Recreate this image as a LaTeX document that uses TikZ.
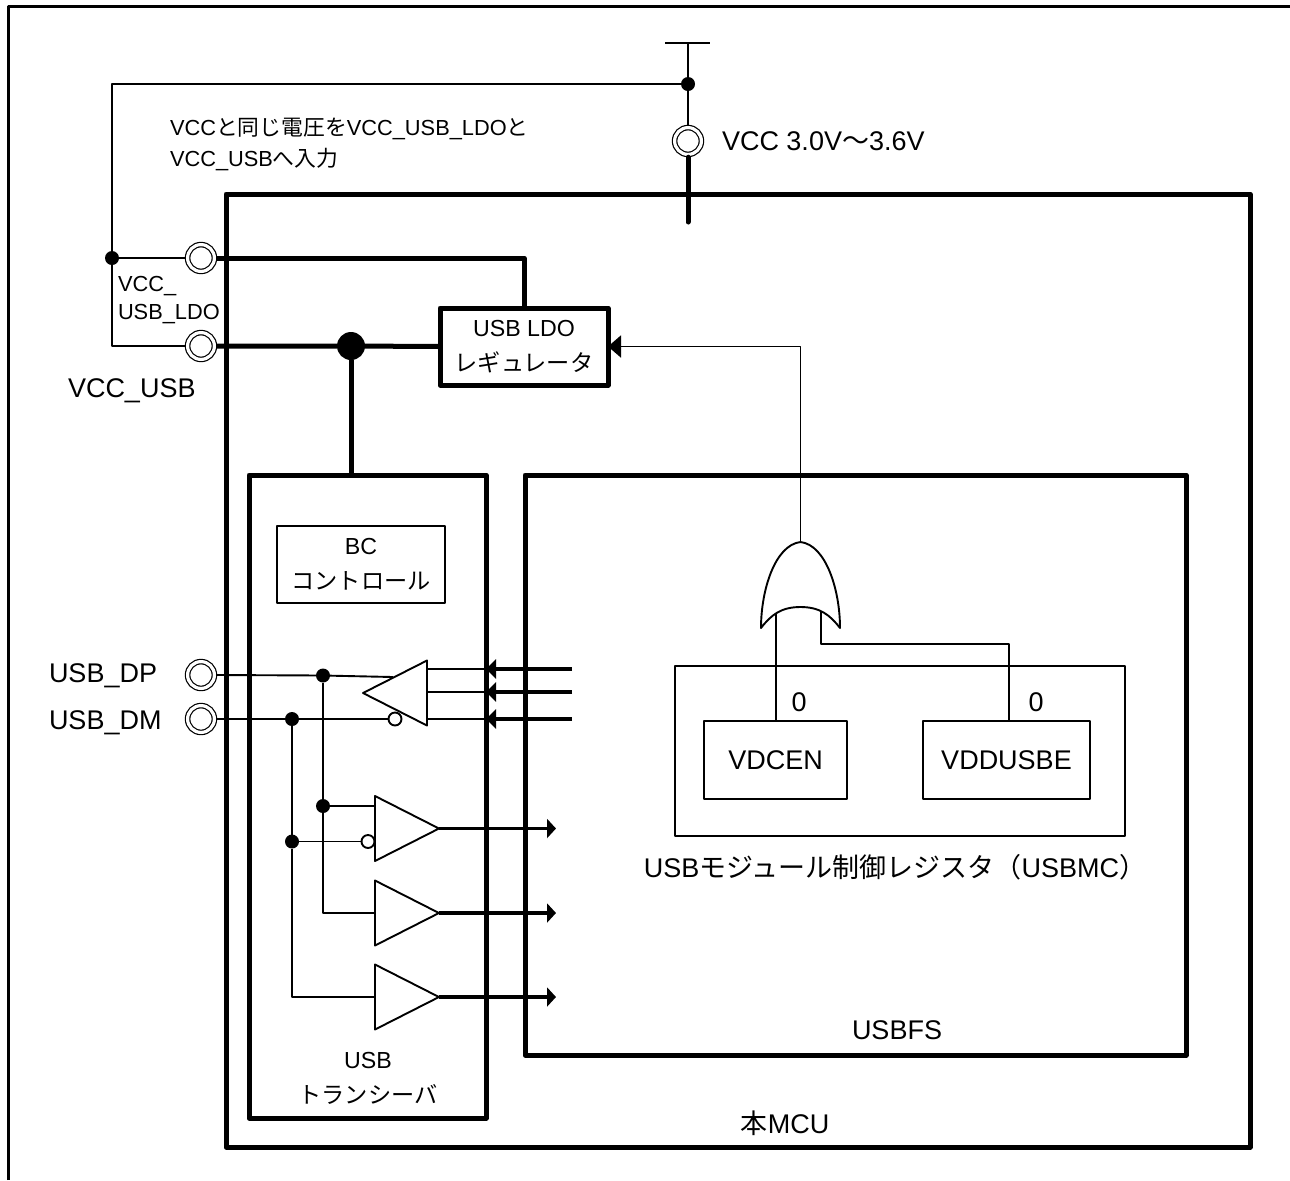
\documentclass[tikz,border=0pt]{standalone}
\usepackage{fontspec}
\setmainfont{Liberation Sans}
\newfontfamily\cjk{Noto Sans CJK JP}
\usetikzlibrary{arrows.meta,shapes.geometric}
\newcommand{\fsbig}{\fontsize{13.5}{16}\selectfont}
\newcommand{\fsmid}{\fontsize{11.6}{17.5}\selectfont}
\newcommand{\fssmall}{\fontsize{10.9}{15.5}\selectfont}

\begin{document}
\begin{tikzpicture}[x=0.5pt,y=-0.5pt,line join=round,
      every node/.style={font=\fsbig,inner sep=0pt,outer sep=0pt},
      thinline/.style={line width=0.95pt},
      heavy/.style={line width=2.5pt},
      box/.style={draw,thinline,minimum width=#1},
      hbox/.style={draw,heavy,minimum width=#1},
      pad/.style={circle,draw,line width=0.6pt,double,double distance=1.6pt,minimum size=13.4pt,outer sep=1.4pt,fill=white},
      junction/.style={circle,fill=black,minimum size=#1},
      junction/.default=7pt,
      bubble/.style={circle,draw,thinline,fill=white,minimum size=6.5pt},
      buf/.style={isosceles triangle,isosceles triangle stretches,draw,thinline,fill=white,
        minimum width=32.5pt,minimum height=32pt,anchor=apex},
      intip/.style={-{Triangle[length=5pt,width=9.5pt]},line width=1.6pt},
      outtip/.style={-{Triangle[length=4.5pt,width=9.5pt]},line width=1.6pt}]
    \useasboundingbox (0,0) rectangle (1290,1180);
    % outer frame, open to the right and below
    \draw[line width=1.5pt] (8.5,1180) -- (8.5,6.5) -- (1290,6.5);
    % blocks
    \node[hbox=512pt,minimum height=476.5pt] (mcu) at (738,670.5) {};
    \node[hbox=118.5pt,minimum height=321.5pt] (trx) at (367.5,796.5) {};
    \node[hbox=330.5pt,minimum height=290pt] (usbfs) at (855.5,765) {};
    \node[box=84pt,minimum height=38.5pt,align=center,font=\fsmid] (bc) at (361,564.5) {BC\\{\cjk コントロール}};
    \node[box=225pt,minimum height=85pt] (usbmc) at (900,751) {};
    \node[box=71.5pt,minimum height=39pt] (vdcen) at (775.5,760) {VDCEN};
    \node[box=83.5pt,minimum height=39pt] (vddusbe) at (1006.5,760) {VDDUSBE};
    \node[hbox=84pt,minimum height=38.5pt,align=center,font=\fsmid,fill=white] (ldo) at (524,346.5) {USB LDO\\{\cjk レギュレータ}};
    % pads
    \node[pad] (vcc) at (688,141) {};
    \node[pad] (ldopad) at (201,258) {};
    \node[pad] (usbpad) at (201,346) {};
    \node[pad] (dp) at (201,675) {};
    \node[pad] (dm) at (201,719) {};
    % supply
    \coordinate (rail) at (688,43);
    \node[junction] (jvcc) at (688,84) {};
    \node[junction] (jleft) at (112,258) {};
    \node[junction=14pt] (jusb) at (351,346) {};
    \draw[thinline] (665,43) -- (710,43);
    \draw[thinline] (rail) -- (jvcc) -- (vcc.north);
    \draw[thinline] (jvcc) -- (jleft |- jvcc) -- (jleft) |- (usbpad.west);
    \draw[thinline] (jleft) -- (ldopad.west);
    \coordinate (vccend) at (688,222);
    \draw[heavy,line cap=round] (vcc.south) -- (vccend);
    \draw[heavy] (ldopad.east) -| (ldo.north);
    \draw[heavy] (usbpad.east) -- (jusb) -- (ldo.west);
    \draw[heavy] (jusb) -- (jusb |- trx.north);
    % OR gate
    \coordinate (orout) at (800.5,542);
    \coordinate (orin1) at (776,614);
    \coordinate (orin2) at (821,612);
    \draw[thinline] (orin1) -- (orin1 |- vdcen.north);
    \draw[thinline] (orin2) |- (1009,644) -- (1009,720.5);
    \draw[thinline] (800.5,607) .. controls (820,607) and (830,615) .. (840,628)
      .. controls (840,590) and (826,545) .. (orout)
      .. controls (775,545) and (761,590) .. (761,628)
      .. controls (771,615) and (781,607) .. (800.5,607);
    \draw[thinline,{Triangle[length=6.5pt,width=11pt]}-] (ldo.east) -| (orout);
    % receiver
    \foreach \y in {669,692,719}
      \draw[thinline] (427,\y) -- (486,\y);
    \foreach \y in {669,692,719}
      \draw[intip] (572,\y) -- (486,\y);
    \node[junction] (jdp) at (323,675.5) {};
    \node[junction] (jdm) at (292,719) {};
    \node[junction] (jp2) at (323,806) {};
    \node[junction] (jm2) at (292,841.5) {};
    \coordinate (inp) at (393,677);
    \draw[thinline] (dp.east) -- (jdp) -- (inp);
    \node[buf,shape border rotate=180] (rx) at (363,693) {};
    \node[bubble] (nrx) at (395,719) {};
    \draw[thinline] (dm.east) -- (jdm) -- (nrx);
    % comparators
    \foreach \n/\y in {a/828.5,b/913,c/997} {
      \node[buf] (tx\n) at (439,\y) {};
      \coordinate (out\n) at (556,\y);
      \draw[outtip] (tx\n.apex) -- (out\n);
    }
    \node[bubble] (ntx) at (368,841.5) {};
    \draw[thinline] (jp2) -- (jp2 -| txa.lower side);
    \draw[thinline] (jm2) -- (ntx);
    \draw[thinline] (jdp) -- (jp2) |- (txb.lower side);
    \draw[thinline] (jdm) -- (jm2) |- (txc.lower side);
    % labels
    \node[anchor=west,font=\fssmall,align=left] (note) at (170,144.5) {VCC{\cjk と同じ電圧を}VCC\_USB\_LDO{\cjk と}\\VCC\_USB{\cjk へ入力}};
    \node[anchor=west] (vcclab) at (722,141) {VCC 3.0V{\cjk ～}3.6V};
    \node[anchor=west,font=\fontsize{10.9}{14}\selectfont,align=left] (ldolab) at (118,300) {VCC\_\\USB\_LDO};
    \node[anchor=west] (usblab) at (68,391) {VCC\_USB};
    \node[anchor=west] (dplab) at (49,676) {USB\_DP};
    \node[anchor=west] (dmlab) at (49,723) {USB\_DM};
    \node (zero1) at (799,702) {0};
    \node (zero2) at (1036,702) {0};
    \node (mclab) at (895,867) {USB{\cjk モジュール制御レジスタ（}USBMC{\cjk ）}};
    \node (fslab) at (897,1030) {USBFS};
    \node[font=\fsmid,align=center] (trxlab) at (368,1078) {USB\\{\cjk トランシーバ}};
    \node (mculab) at (785,1123) {{\cjk 本}MCU};
\end{tikzpicture}
\end{document}
